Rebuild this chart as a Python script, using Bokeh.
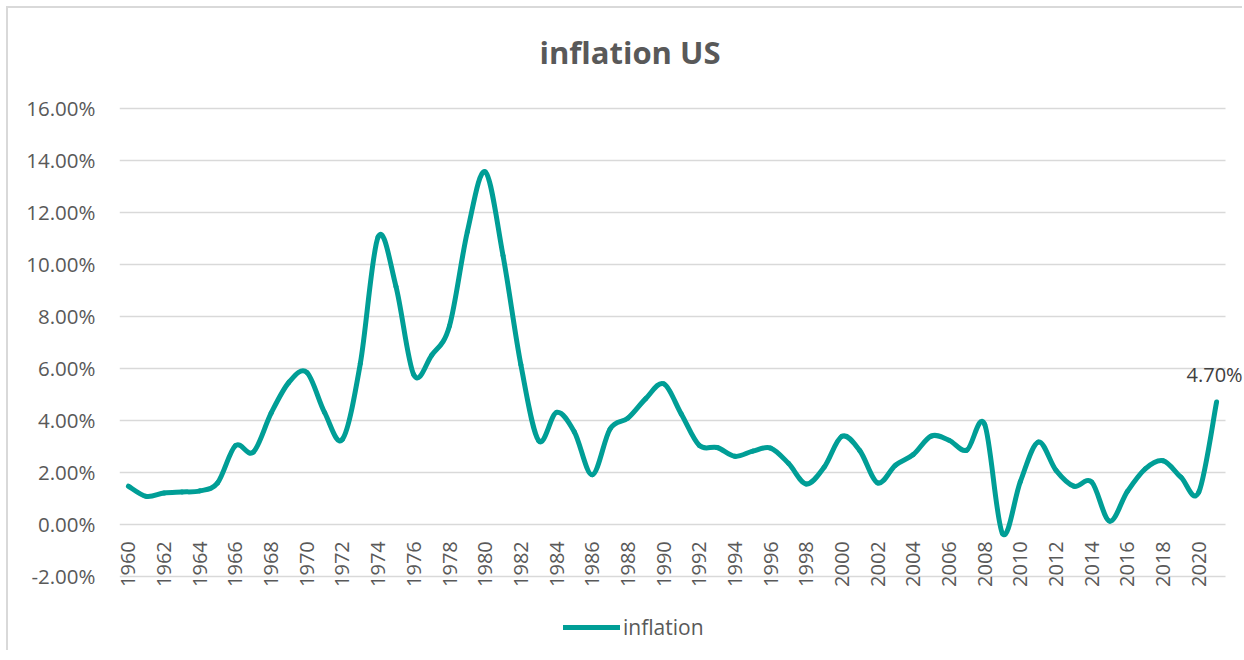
import math
from bokeh.plotting import figure
from bokeh.models import (FixedTicker, PrintfTickFormatter, Range1d, Legend,
                          LegendItem, Label, ColumnDataSource)
from bokeh.embed import file_html
from bokeh.resources import INLINE

# ---- data ----
years = list(range(1960, 2022))
inflation = [1.46, 1.07, 1.20, 1.24, 1.28, 1.59, 3.02, 2.77, 4.27, 5.46,
             5.84, 4.29, 3.27, 6.18, 11.05, 9.14, 5.74, 6.50, 7.63, 11.25,
             13.55, 10.33, 6.13, 3.21, 4.30, 3.55, 1.90, 3.66, 4.08, 4.83,
             5.40, 4.23, 3.03, 2.95, 2.61, 2.81, 2.93, 2.34, 1.55, 2.19,
             3.38, 2.83, 1.59, 2.27, 2.68, 3.39, 3.23, 2.85, 3.84, -0.36,
             1.64, 3.16, 2.07, 1.46, 1.62, 0.12, 1.26, 2.13, 2.44, 1.81,
             1.23, 4.70]
x_ticks = list(range(1960, 2021, 2))
y_ticks = list(range(-2, 17, 2))
title_text = "inflation US"
series_name = "inflation"

LINE = "#009E96"
TXT = "#595959"
FONT = "Open Sans"

# ---- smoothed path (Catmull-Rom style bezier segments through the data) ----
n = len(years)
seg = dict(x0=[], y0=[], x1=[], y1=[], cx0=[], cy0=[], cx1=[], cy1=[])
for i in range(n - 1):
    xa, ya = (years[i - 1], inflation[i - 1]) if i > 0 else (years[i], inflation[i])
    xb, yb = years[i], inflation[i]
    xc, yc = years[i + 1], inflation[i + 1]
    xd, yd = (years[i + 2], inflation[i + 2]) if i + 2 < n else (xc, yc)
    seg["x0"].append(xb); seg["y0"].append(yb)
    seg["x1"].append(xc); seg["y1"].append(yc)
    seg["cx0"].append(xb + (xc - xa) / 6.0); seg["cy0"].append(yb + (yc - ya) / 6.0)
    seg["cx1"].append(xc - (xd - xb) / 6.0); seg["cy1"].append(yc - (yd - yb) / 6.0)
src = ColumnDataSource(seg)

# ---- layout (pixels) ----
FRAME_W, FRAME_H = 1125, 644
x_start = years[0] - 0.5
x_plot_end = years[-1] + 0.5
px_x = 1106 / (x_plot_end - x_start)          # pixels per year
x_end = x_start + FRAME_W / px_x
px_y = 26.0                                    # pixels per percentage point
top_gap = 99.7                                 # px from frame top to 16% line
y_end = y_ticks[-1] + top_gap / px_y
y_start = y_end - FRAME_H / px_y

p = figure(title=None, frame_width=FRAME_W, frame_height=FRAME_H,
           x_range=Range1d(x_start, x_end), y_range=Range1d(y_start, y_end),
           output_backend="svg", toolbar_location=None,
           min_border_left=111, min_border_right=0, min_border_top=0,
           min_border_bottom=0, background_fill_color="white",
           border_fill_color="white")
p.outline_line_color = None
p.styles = {"margin-left": "8px", "margin-top": "8px",
            "box-shadow": "-2px -2px 0 0 #d9d9d9"}

# y axis
yax = p.yaxis[0]
yax.ticker = FixedTicker(ticks=y_ticks)
yax.formatter = PrintfTickFormatter(format="%.2f%%")
yax.axis_line_color = None
yax.major_tick_line_color = None
yax.minor_tick_line_color = None
yax.major_tick_out = 0
yax.major_tick_in = 0
yax.major_label_standoff = 24
yax.major_label_text_font = FONT
yax.major_label_text_font_size = "20.5px"
yax.major_label_text_color = TXT

# x axis drawn at 0
xax = p.xaxis[0]
xax.fixed_location = 0
xax.ticker = FixedTicker(ticks=x_ticks)
xax.axis_line_color = None
xax.major_tick_line_color = None
xax.minor_tick_line_color = None
xax.major_tick_out = 0
xax.major_tick_in = 0
xax.major_label_orientation = math.pi / 2
xax.major_label_standoff = 17
xax.major_label_text_font = FONT
xax.major_label_text_font_size = "20px"
xax.major_label_text_color = TXT

p.xgrid.grid_line_color = None
yg = p.ygrid[0]
yg.ticker = FixedTicker(ticks=y_ticks)
yg.grid_line_color = "#D9D9D9"
yg.grid_line_width = 1.5
if "cross_bounds" in yg.properties():
    yg.cross_bounds = (x_start, x_plot_end)

r = p.bezier(x0="x0", y0="y0", x1="x1", y1="y1", cx0="cx0", cy0="cy0",
             cx1="cx1", cy1="cy1", source=src, line_color=LINE, line_width=5,
             line_cap="round", line_join="round")

# chart title (placed inside the frame, above the 16% line)
title = Label(x=x_start + (629.5 - 119) / px_x, y=y_ticks[-1] + 56.7 / px_y,
              text=title_text, text_align="center", text_baseline="alphabetic",
              text_font=FONT, text_font_size="31px", text_font_style="bold",
              text_color=TXT)
p.add_layout(title)

lab = Label(x=years[-1], y=inflation[-1], text=f"{inflation[-1]:.2f}%",
            text_align="center", text_baseline="bottom", y_offset=14,
            x_offset=-2,
            text_font=FONT, text_font_size="20px", text_color="#404040")
p.add_layout(lab)

legend = Legend(items=[LegendItem(label=series_name, renderers=[r])],
                location=(444, 11), orientation="horizontal", padding=0,
                margin=0, spacing=0, glyph_width=57, glyph_height=20,
                label_height=20, label_standoff=3,
                label_text_font=FONT, label_text_font_size="21px",
                label_text_color=TXT, border_line_color=None,
                background_fill_alpha=0)
p.add_layout(legend)

open("out.html", "w").write(file_html(p, INLINE))
